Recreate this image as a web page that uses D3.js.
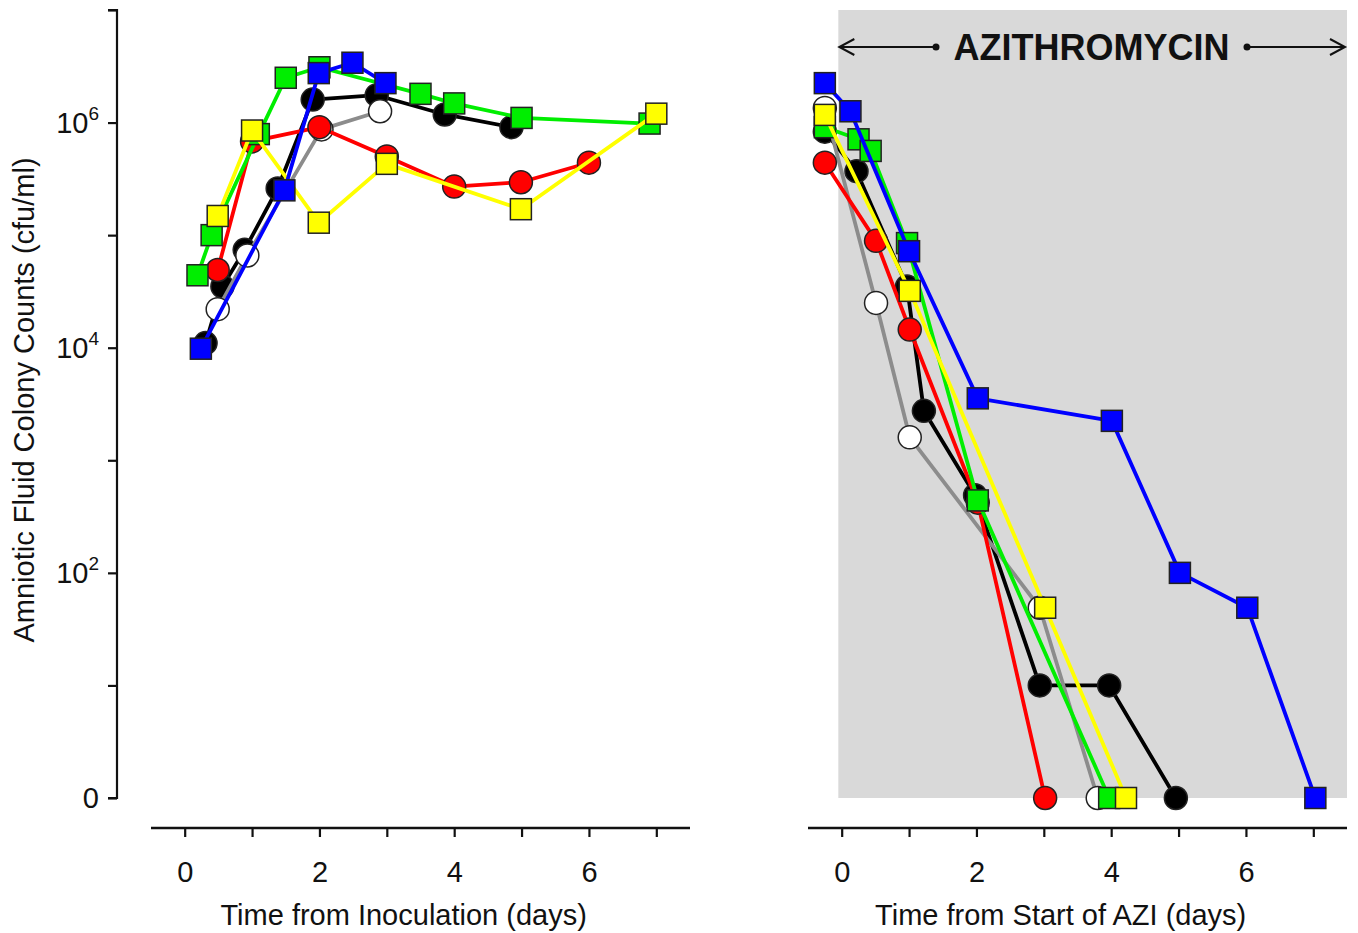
<!DOCTYPE html>
<html>
<head>
<meta charset="utf-8">
<script src="https://cdn.jsdelivr.net/npm/d3@7"></script>
<style>
  html, body { margin: 0; padding: 0; background: #ffffff; }
  svg { display: block; }
  text { font-family: "Liberation Sans", Arial, sans-serif; fill: #111; }
</style>
</head>
<body>
<svg id="chart" width="1358" height="933"></svg>
<script>
// ---------- DATA ----------
// Left panel: time from inoculation (days)
const leftBlackDays   = [0.31, 0.56, 0.89, 1.38, 1.90, 2.85, 3.86, 4.85];
const leftBlackCounts = [1.1e4, 3.5e4, 7.4e4, 2.6e5, 1.6e6, 1.75e6, 1.18e6, 9.1e5];
const leftWhiteDays   = [0.49, 0.93, 2.03, 2.90];
const leftWhiteCounts = [2.2e4, 6.6e4, 8.7e5, 1.26e6];
const leftRedDays     = [0.49, 1.00, 2.00, 3.00, 4.00, 4.99, 6.00];
const leftRedCounts   = [4.9e4, 6.8e5, 9.1e5, 5.0e5, 2.7e5, 2.95e5, 4.4e5];
const leftGreenDays   = [0.19, 0.40, 1.10, 1.50, 2.00, 3.50, 4.00, 5.00, 6.90];
const leftGreenCounts = [4.4e4, 1.0e5, 7.9e5, 2.5e6, 3.1e6, 1.8e6, 1.48e6, 1.1e6, 9.8e5];
const leftYellowDays   = [0.49, 1.00, 1.99, 3.00, 4.99, 7.00];
const leftYellowCounts = [1.48e5, 8.5e5, 1.29e5, 4.3e5, 1.7e5, 1.2e6];
const leftBlueDays    = [0.24, 1.48, 1.99, 2.49, 2.98];
const leftBlueCounts  = [9.8e3, 2.5e5, 2.75e6, 3.4e6, 2.24e6];

// Right panel: time from start of AZI (days); 0 = no growth
const rightBlackDays   = [-0.25, 0.22, 0.97, 1.22, 1.98, 2.94, 3.97, 4.96];
const rightBlackCounts = [8.3e5, 3.7e5, 3.5e4, 2750, 490, 10, 10, 0];
const rightWhiteDays   = [-0.25, 0.51, 1.01, 2.94, 3.80];
const rightWhiteCounts = [1.35e6, 2.5e4, 1600, 49, 0];
const rightRedDays     = [-0.25, 0.51, 1.01, 2.02, 3.02];
const rightRedCounts   = [4.4e5, 8.9e4, 1.45e4, 420, 0];
const rightGreenDays   = [-0.25, 0.25, 0.43, 0.97, 2.02, 3.97];
const rightGreenCounts = [9.1e5, 7.1e5, 5.6e5, 8.5e4, 440, 0];
const rightYellowDays   = [-0.25, 1.01, 3.02, 4.22];
const rightYellowCounts = [1.17e6, 3.2e4, 49, 0];
const rightBlueDays    = [-0.25, 0.13, 1.00, 2.02, 4.01, 5.02, 6.02, 7.03];
const rightBlueCounts  = [2.24e6, 1.26e6, 7.2e4, 3550, 2240, 100, 49, 0];

const xTickValues = [0, 1, 2, 3, 4, 5, 6, 7];
const xTickLabels = ["0", "", "2", "", "4", "", "6", ""];
const yTickValues = [1, 1e1, 1e2, 1e3, 1e4, 1e5, 1e6, 1e7];
const yTickLabels = [["0", ""], ["", ""], ["10", "2"], ["", ""], ["10", "4"], ["", ""], ["10", "6"], ["", ""]];

const yTitle = "Amniotic Fluid Colony Counts (cfu/ml)";
const leftXTitle = "Time from Inoculation (days)";
const rightXTitle = "Time from Start of AZI (days)";
const bannerText = "AZITHROMYCIN";

// ---------- SERIES (drawn bottom to top) ----------
const seriesStyles = [
  { key: "black",  line: "#000000", fill: "#000000", shape: "circle" },
  { key: "white",  line: "#8c8c8c", fill: "#ffffff", shape: "circle" },
  { key: "red",    line: "#ff0000", fill: "#ff0000", shape: "circle" },
  { key: "green",  line: "#00ee00", fill: "#00ee00", shape: "square" },
  { key: "yellow", line: "#ffff00", fill: "#ffff00", shape: "square" },
  { key: "blue",   line: "#0000ff", fill: "#0000ff", shape: "square" }
];
const leftData = {
  black: [leftBlackDays, leftBlackCounts], white: [leftWhiteDays, leftWhiteCounts],
  red: [leftRedDays, leftRedCounts], green: [leftGreenDays, leftGreenCounts],
  yellow: [leftYellowDays, leftYellowCounts], blue: [leftBlueDays, leftBlueCounts]
};
const rightData = {
  black: [rightBlackDays, rightBlackCounts], white: [rightWhiteDays, rightWhiteCounts],
  red: [rightRedDays, rightRedCounts], green: [rightGreenDays, rightGreenCounts],
  yellow: [rightYellowDays, rightYellowCounts], blue: [rightBlueDays, rightBlueCounts]
};

// ---------- LAYOUT ----------
const svg = d3.select("#chart");
const yTop = 10, yBottom = 798, xAxisY = 828, yAxisX = 117;
const y = d3.scaleLog().domain([1, 1e7]).range([yBottom, yTop]);
const yv = v => y(Math.max(v, 1));
const xL = d3.scaleLinear().domain([-0.5, 7.5]).range([151, 690]);
const xR = d3.scaleLinear().domain([-0.5, 7.5]).range([808, 1347]);

// shaded antibiotic region
svg.append("rect")
  .attr("x", xR(-0.05)).attr("y", yTop)
  .attr("width", xR(7.5) - xR(-0.05)).attr("height", yBottom - yTop)
  .attr("fill", "#d9d9d9");

// Y axis
const yAxis = d3.axisLeft(y).tickValues(yTickValues).tickSize(9).tickFormat("");
const gy = svg.append("g").attr("transform", `translate(${yAxisX},0)`).call(yAxis);
gy.select(".domain").attr("d", `M-9,${yTop}H0V${yBottom}H-9`).attr("stroke", "#111").attr("stroke-width", 2.2);
gy.selectAll(".tick line").attr("stroke", "#111").attr("stroke-width", 2.2);
yTickValues.forEach((v, i) => {
  const [base, sup] = yTickLabels[i];
  if (!base) return;
  const t = svg.append("text")
    .attr("x", 99).attr("y", y(v) + 10)
    .attr("text-anchor", "end")
    .attr("font-size", 29);
  t.append("tspan").text(base);
  if (sup) t.append("tspan").attr("font-size", 19).attr("dy", -13).text(sup);
});
svg.append("text")
  .attr("transform", `translate(34,400) rotate(-90)`)
  .attr("text-anchor", "middle")
  .attr("font-size", 29)
  .text(yTitle);

// X axes
function drawXAxis(x, title, titleX) {
  const ax = d3.axisBottom(x).tickValues(xTickValues).tickSize(9)
    .tickFormat((d, i) => xTickLabels[i]).tickPadding(24);
  const g = svg.append("g").attr("transform", `translate(0,${xAxisY})`).call(ax);
  g.select(".domain").attr("d", `M${x.range()[0]},0H${x.range()[1]}`).attr("stroke", "#111").attr("stroke-width", 2.4);
  g.selectAll(".tick line").attr("stroke", "#111").attr("stroke-width", 2.2);
  g.selectAll(".tick text").attr("font-size", 29).attr("font-family", "Liberation Sans, Arial, sans-serif").attr("fill", "#111");
  svg.append("text")
    .attr("x", titleX).attr("y", 925)
    .attr("text-anchor", "middle")
    .attr("font-size", 29)
    .text(title);
}
drawXAxis(xL, leftXTitle, xL(3.25));
drawXAxis(xR, rightXTitle, xR(3.25));

// Series
function drawPanel(x, data) {
  const g = svg.append("g");
  seriesStyles.forEach(s => {
    const [days, counts] = data[s.key];
    const pts = days.map((d, i) => [d, counts[i]]);
    const gs = g.append("g");
    gs.append("path")
      .datum(pts)
      .attr("fill", "none")
      .attr("stroke", s.line)
      .attr("stroke-width", 3.8)
      .attr("stroke-linejoin", "round")
      .attr("d", d3.line().x(p => x(p[0])).y(p => yv(p[1])));
    if (s.shape === "circle") {
      gs.selectAll("circle").data(pts).join("circle")
        .attr("cx", p => x(p[0])).attr("cy", p => yv(p[1]))
        .attr("r", 11.5)
        .attr("fill", s.fill).attr("stroke", "#222").attr("stroke-width", 1.5);
    } else {
      gs.selectAll("rect").data(pts).join("rect")
        .attr("x", p => x(p[0]) - 10.5).attr("y", p => yv(p[1]) - 10.5)
        .attr("width", 21).attr("height", 21)
        .attr("fill", s.fill).attr("stroke", "#222").attr("stroke-width", 1.5);
    }
  });
}
drawPanel(xL, leftData);
drawPanel(xR, rightData);

// Banner: <—• AZITHROMYCIN •—>
const by = 47;
const ax0 = xR(-0.05) + 1, ax1 = xR(7.5) - 2;
const dotL = 936, dotR = 1247;
const ban = svg.append("g").attr("stroke", "#111").attr("stroke-width", 2).attr("fill", "none");
ban.append("line").attr("x1", ax0).attr("x2", dotL).attr("y1", by).attr("y2", by);
ban.append("line").attr("x1", dotR).attr("x2", ax1).attr("y1", by).attr("y2", by);
ban.append("path").attr("d", `M${ax0 + 15},${by - 8}L${ax0},${by}L${ax0 + 15},${by + 8}`);
ban.append("path").attr("d", `M${ax1 - 15},${by - 8}L${ax1},${by}L${ax1 - 15},${by + 8}`);
svg.append("circle").attr("cx", dotL).attr("cy", by).attr("r", 3.5).attr("fill", "#111");
svg.append("circle").attr("cx", dotR).attr("cy", by).attr("r", 3.5).attr("fill", "#111");
svg.append("text")
  .attr("x", (dotL + dotR) / 2).attr("y", by + 13)
  .attr("text-anchor", "middle")
  .attr("font-size", 36).attr("font-weight", "bold")
  .text(bannerText);
</script>
</body>
</html>
